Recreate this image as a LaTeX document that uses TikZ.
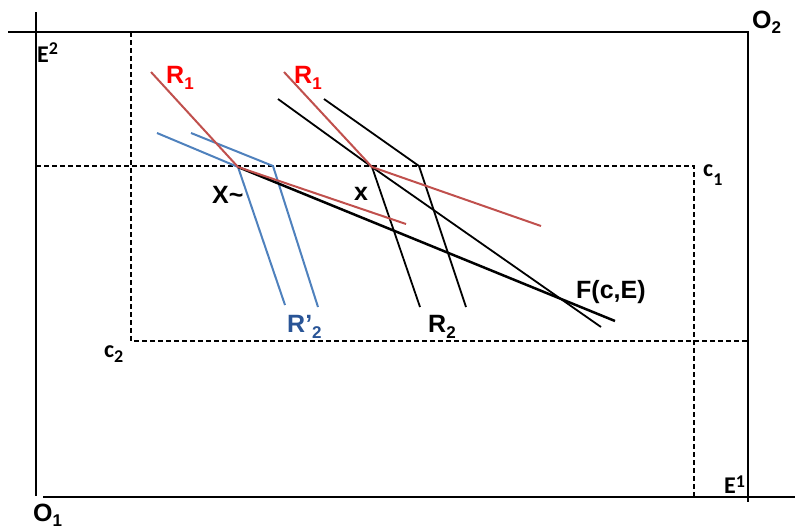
\documentclass[tikz,border=0pt]{standalone}
\usepackage{fontspec}
\setmainfont{Liberation Sans}
\newfontfamily\carl{Carlito}
\definecolor{redline}{RGB}{192,80,77}
\definecolor{blueline}{RGB}{79,129,189}
\definecolor{redlab}{RGB}{255,0,0}
\definecolor{bluelab}{RGB}{41,84,150}
\newcommand\dsub[2]{\raisebox{-#1pt}{\fontsize{17}{17}\selectfont #2}}
\newcommand\csub[2]{\raisebox{#1pt}{\fontsize{18}{18}\selectfont #2}}
\begin{document}
\begin{tikzpicture}[x=1pt,y=-1pt,
  frame/.style={line width=2pt,black},
  dash line/.style={line width=2pt,black,dash pattern=on 5pt off 3pt},
  redl/.style={line width=2pt,redline},
  bluel/.style={line width=2pt,blueline},
  blackl/.style={line width=1.8pt,black},
  blackF/.style={line width=2.5pt,black},
  lab/.style={inner sep=0pt,anchor=base west,font=\fontsize{25}{25}\selectfont\bfseries},
  clab/.style={inner sep=0pt,anchor=base west,font=\carl\bfseries\fontsize{24}{24}\selectfont}]
\useasboundingbox (0,0) rectangle (795,531);
% frame
\draw[frame] (8,32) -- (748,32) -- (748,502);
\draw[frame] (36,12) -- (36,496);
\draw[frame] (43,497) -- (795,497);
% dashed boxes
\draw[dash line] (36,166) -- (694,166) -- (694,497);
\draw[dash line] (131,32) -- (131,341) -- (748,341);
% key points
\coordinate (Xt) at (238,167);
\coordinate (xp) at (372,167);
\coordinate (b1s) at (157,133);
\coordinate (b1e) at (285,305);
\coordinate (b2s) at (191,133);
\coordinate (b2k) at (273,166);
\coordinate (b2e) at (318,307);
\coordinate (Fe) at (615,321);
\coordinate (k2s) at (278,99);
\coordinate (k2e) at (601,327);
\coordinate (r2ae) at (420,307);
\coordinate (r2bs) at (324,99);
\coordinate (r2bk) at (419,166);
\coordinate (r2be) at (466,307);
\coordinate (r1as) at (151,72);
\coordinate (r1ae) at (406,224);
\coordinate (r1bs) at (284,72);
\coordinate (r1be) at (541,226);
% blue
\draw[bluel] (b1s) -- (Xt) -- (b1e);
\draw[bluel] (b2s) -- (b2k) -- (b2e);
% black
\draw[blackF] (Xt) -- (Fe);
\draw[blackl] (k2s) -- (xp) -- (k2e);
\draw[blackl] (xp) -- (r2ae);
\draw[blackl] (r2bs) -- (r2bk) -- (r2be);
% red
\draw[redl] (r1as) -- (Xt) -- (r1ae);
\draw[redl] (r1bs) -- (xp) -- (r1be);
% labels
\node[lab] (O2) at (752,28) {O\dsub{5}{2}};
\node[lab] (O1) at (33,521) {O\dsub{5}{1}};
\node[clab] (E2) at (37,62) {E\csub{8}{2}};
\node[clab] (E1) at (724,493) {E\csub{6}{1}};
\node[clab] (c1) at (703,176) {c\csub{-9}{1}};
\node[clab] (c2) at (104,357) {c\csub{-5}{2}};
\node[lab,text=redlab] (R1a) at (166,83) {R\dsub{6}{1}};
\node[lab,text=redlab] (R1b) at (294,83) {R\dsub{6}{1}};
\node[lab] (Xl) at (212,203) {X\textasciitilde};
\node[lab] (xl) at (354,200) {x};
\node[lab,text=bluelab] (R2p) at (287,332) {R’\dsub{6}{2}};
\node[lab] (R2) at (428,332) {R\dsub{6}{2}};
\node[lab] (F) at (576,298) {F(c,E)};
\end{tikzpicture}
\end{document}
